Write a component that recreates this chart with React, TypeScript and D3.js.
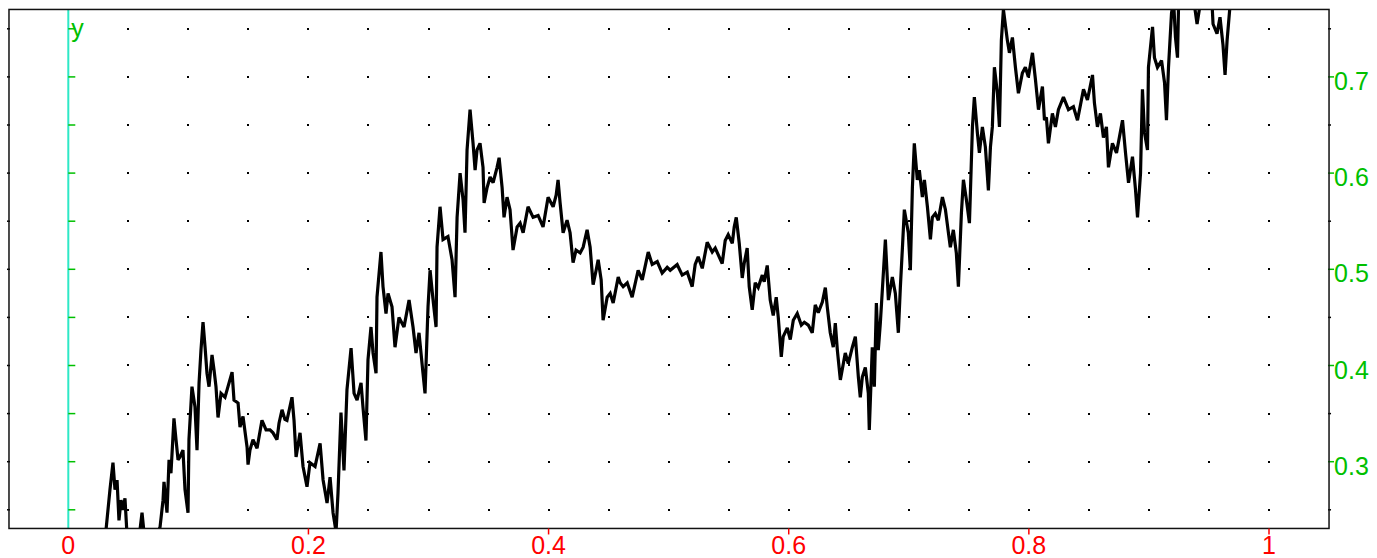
import React from "react";
import * as d3 from "d3";

// Random-walk path: [x, y]
const walk: [number, number][] = [
  [0, 0.19], [0.012, 0.205], [0.022, 0.198], [0.0314, 0.229], [0.0347, 0.271], [0.0372, 0.299], [0.0389, 0.271], [0.0406, 0.281], [0.0422, 0.239], [0.0439, 0.26], [0.0456, 0.25], [0.0472, 0.262], [0.0489, 0.224], [0.0539, 0.213], [0.0597, 0.229], [0.0614, 0.247], [0.063, 0.227], [0.0697, 0.213], [0.0747, 0.227],
  [0.0764, 0.232], [0.0789, 0.26], [0.0797, 0.279], [0.0822, 0.247], [0.0839, 0.302], [0.0855, 0.288], [0.088, 0.345], [0.0897, 0.323], [0.0914, 0.302], [0.093, 0.305], [0.0955, 0.312], [0.0972, 0.271], [0.0997, 0.247], [0.1005, 0.323], [0.103, 0.378], [0.1055, 0.357], [0.1072, 0.312], [0.1089, 0.382], [0.1105, 0.416], [0.1122, 0.445], [0.1139, 0.419], [0.1155, 0.392], [0.1172, 0.378], [0.1197, 0.411], [0.1214, 0.395], [0.123, 0.378], [0.1247, 0.346], [0.1272, 0.371], [0.1305, 0.367], [0.133, 0.378], [0.1364, 0.393], [0.138, 0.364], [0.1414, 0.361], [0.143, 0.336], [0.1455, 0.347], [0.1489, 0.315], [0.1497, 0.297], [0.1513, 0.312], [0.1538, 0.323], [0.1572, 0.314], [0.1613, 0.343], [0.1647, 0.333], [0.168, 0.333], [0.1705, 0.33], [0.1738, 0.323], [0.1755, 0.34], [0.178, 0.354],
  [0.1804, 0.344], [0.1821, 0.343], [0.1863, 0.367], [0.188, 0.343], [0.1897, 0.305], [0.193, 0.33], [0.1955, 0.295], [0.1988, 0.274], [0.2013, 0.299], [0.2055, 0.295], [0.2097, 0.319], [0.2122, 0.281], [0.2155, 0.257], [0.218, 0.284], [0.2205, 0.247], [0.223, 0.227], [0.2246, 0.267], [0.2271, 0.351], [0.2296, 0.291], [0.2321, 0.375], [0.2355, 0.418], [0.238, 0.371], [0.2405, 0.364], [0.2438, 0.382], [0.2454, 0.357], [0.2479, 0.322], [0.2496, 0.406], [0.2521, 0.44], [0.2538, 0.413], [0.2563, 0.392], [0.2571, 0.471], [0.2604, 0.518], [0.2621, 0.482], [0.2646, 0.454], [0.2663, 0.475], [0.2696, 0.461], [0.2721, 0.419], [0.2754, 0.45], [0.2796, 0.44], [0.2838, 0.468], [0.2871, 0.44], [0.2896, 0.413], [0.2921, 0.434], [0.2954, 0.392], [0.2971, 0.371], [0.2996, 0.461], [0.3013, 0.499], [0.3038, 0.468], [0.3063, 0.44], [0.3071, 0.523], [0.3096, 0.565], [0.3121, 0.531], [0.3162, 0.534], [0.3196, 0.51], [0.3221, 0.471], [0.3238, 0.554], [0.3263, 0.6], [0.3288, 0.572], [0.3304, 0.538], [0.3321, 0.624], [0.3346, 0.666],
  [0.3371, 0.631], [0.3388, 0.603], [0.3404, 0.624], [0.3429, 0.631], [0.3454, 0.606], [0.3463, 0.569], [0.3488, 0.585], [0.3513, 0.596], [0.3538, 0.59], [0.3571, 0.606], [0.3588, 0.616], [0.3613, 0.585], [0.3629, 0.554], [0.3654, 0.575], [0.3679, 0.562], [0.3704, 0.52], [0.3738, 0.544], [0.3763, 0.548], [0.3788, 0.538], [0.3829, 0.565], [0.3871, 0.554], [0.3913, 0.556], [0.3954, 0.544], [0.3996, 0.575], [0.4038, 0.565], [0.4063, 0.577], [0.4079, 0.593], [0.4096, 0.569], [0.4121, 0.538], [0.4154, 0.551], [0.4179, 0.538], [0.4204, 0.507], [0.4229, 0.52], [0.4263, 0.517], [0.4288, 0.523], [0.4321, 0.541], [0.4346, 0.523], [0.4371, 0.484], [0.4396, 0.499], [0.4413, 0.51], [0.4438, 0.489], [0.4454, 0.447], [0.4488, 0.471], [0.4513, 0.475], [0.4538, 0.465], [0.458, 0.492], [0.4596, 0.486], [0.4621, 0.482], [0.4655, 0.486], [0.4696, 0.471], [0.4746, 0.499], [0.478, 0.489], [0.483, 0.518], [0.4863, 0.505],
  [0.4905, 0.508], [0.4946, 0.496], [0.4988, 0.502], [0.5013, 0.499], [0.5071, 0.505], [0.5113, 0.494], [0.5155, 0.497], [0.5196, 0.482], [0.5221, 0.505], [0.5246, 0.513], [0.528, 0.501], [0.5321, 0.528], [0.5363, 0.518], [0.5388, 0.522], [0.5446, 0.506], [0.5471, 0.53], [0.5496, 0.536], [0.553, 0.527], [0.5546, 0.544], [0.5563, 0.554], [0.5588, 0.527], [0.5613, 0.491], [0.5629, 0.506], [0.5654, 0.522], [0.5671, 0.482], [0.5696, 0.458], [0.5721, 0.486], [0.5746, 0.481], [0.578, 0.494], [0.5796, 0.487], [0.5821, 0.504], [0.5846, 0.468], [0.5871, 0.452], [0.5896, 0.471], [0.5913, 0.45], [0.5938, 0.409], [0.5954, 0.43], [0.5988, 0.439], [0.6013, 0.427], [0.6038, 0.447], [0.6071, 0.454], [0.6105, 0.442], [0.613, 0.445], [0.6163, 0.442], [0.6196, 0.434], [0.6221, 0.463], [0.6246, 0.455], [0.628, 0.466], [0.6305, 0.481], [0.6321, 0.461], [0.6346, 0.434], [0.6371, 0.419], [0.6388, 0.444], [0.6405, 0.416], [0.643, 0.385], [0.6455, 0.402], [0.6471, 0.413], [0.6496, 0.402],
  [0.653, 0.419], [0.6555, 0.43], [0.658, 0.388], [0.6596, 0.367], [0.6613, 0.388], [0.6638, 0.398], [0.6663, 0.371], [0.6671, 0.333], [0.6696, 0.419], [0.6713, 0.378], [0.673, 0.465], [0.6746, 0.416], [0.6763, 0.444], [0.678, 0.479], [0.6805, 0.531], [0.683, 0.468], [0.6863, 0.492], [0.6888, 0.475], [0.6913, 0.434], [0.693, 0.482], [0.6946, 0.52], [0.6963, 0.562], [0.6996, 0.538], [0.7013, 0.499], [0.703, 0.585], [0.7046, 0.631], [0.7071, 0.593], [0.7088, 0.603], [0.7113, 0.575], [0.713, 0.593], [0.7155, 0.565], [0.718, 0.531], [0.7196, 0.554], [0.7221, 0.558], [0.7246, 0.551], [0.728, 0.575], [0.7305, 0.562], [0.733, 0.538], [0.7346, 0.523], [0.7371, 0.541], [0.7396, 0.517], [0.7413, 0.482], [0.7438, 0.558], [0.7455, 0.593], [0.748, 0.572], [0.7505, 0.548], [0.7513, 0.579], [0.753, 0.648], [0.7546, 0.679], [0.7571, 0.642], [0.7588, 0.621], [0.7613, 0.648], [0.7638, 0.627], [0.7663, 0.582], [0.768, 0.627], [0.7696, 0.648], [0.7713, 0.71], [0.7738, 0.683], [0.7755, 0.648], [0.7771, 0.738], [0.7788, 0.77],
  [0.7821, 0.738], [0.7838, 0.725], [0.7863, 0.741], [0.7888, 0.71], [0.7913, 0.683], [0.7946, 0.704], [0.7971, 0.71], [0.7996, 0.7], [0.803, 0.725], [0.8055, 0.697], [0.808, 0.666], [0.8113, 0.69], [0.813, 0.655], [0.8146, 0.658], [0.8163, 0.631], [0.8196, 0.662], [0.8221, 0.648], [0.8246, 0.666], [0.8288, 0.679], [0.833, 0.666], [0.8371, 0.669], [0.8405, 0.655], [0.8455, 0.687], [0.8488, 0.676], [0.853, 0.702], [0.8546, 0.673], [0.8571, 0.648], [0.8596, 0.662], [0.8621, 0.637], [0.8646, 0.648], [0.8663, 0.606], [0.8696, 0.631], [0.873, 0.621], [0.878, 0.655], [0.8805, 0.621], [0.883, 0.59], [0.8863, 0.617], [0.8888, 0.583], [0.8905, 0.554], [0.893, 0.6], [0.8946, 0.687], [0.8963, 0.642], [0.8988, 0.624], [0.8996, 0.71], [0.903, 0.752], [0.9046, 0.72], [0.9071, 0.71], [0.9105, 0.717], [0.913, 0.694], [0.9146, 0.655], [0.9163, 0.71], [0.9188, 0.766], [0.9205, 0.78], [0.9221, 0.741], [0.9238, 0.72], [0.9246, 0.77], [0.9263, 0.79],
  [0.930, 0.8], [0.9346, 0.79], [0.9384, 0.77], [0.9401, 0.755], [0.9426, 0.775], [0.9467, 0.79], [0.951, 0.785], [0.9526, 0.775], [0.9534, 0.755], [0.9567, 0.745], [0.9592, 0.762], [0.9617, 0.733], [0.9634, 0.702], [0.9651, 0.738], [0.9676, 0.775], [0.975, 0.8], [0.985, 0.82], [1.0, 0.81],
];

const xTickValues = [0, 0.2, 0.4, 0.6, 0.8, 1];
const xTickLabels = ["0", "0.2", "0.4", "0.6", "0.8", "1"];
const yTickValues = [0.3, 0.4, 0.5, 0.6, 0.7];
const yTickLabels = ["0.3", "0.4", "0.5", "0.6", "0.7"];
const gridStep = 0.05;
const xExtent = [-0.0494, 1.05];
const yExtent = [0.2306, 0.7701];

const W = 1377;
const H = 558;
const GREEN = "#00c000";
const RED = "#ff0000";
const CYAN = "#2ee8c6";
const FONT = "'Liberation Sans', Arial, sans-serif";

export default function App() {
  const x = d3.scaleLinear().domain([0, 1]).range([68.3, 1269]);
  const y = d3.scaleLinear().domain([0.3, 0.7]).range([461.7, 76.9]);

  const left = x(xExtent[0]);
  const right = x(xExtent[1]);
  const top = y(yExtent[1]);
  const bottom = y(yExtent[0]);

  const line = d3
    .line<[number, number]>()
    .x((d) => x(d[0]))
    .y((d) => y(d[1]));

  const gx: number[] = [];
  for (let i = 1; i <= 20; i++) gx.push(+(i * gridStep).toFixed(2));
  const gy: number[] = [];
  for (let j = 5; j <= 15; j++) gy.push(+(j * gridStep).toFixed(2));

  const dots: JSX.Element[] = [];
  gx.forEach((vx) =>
    gy.forEach((vy) =>
      dots.push(
        <rect key={`d${vx}-${vy}`} x={Math.round(x(vx)) - 1} y={Math.round(y(vy)) - 1} width={2} height={2} fill="#000" />
      )
    )
  );

  const isLabeledY = (v: number) => yTickValues.some((t) => Math.abs(t - v) < 1e-6);

  return (
    <svg
      width={W}
      height={H}
      style={{ position: "absolute", left: 0, top: 0, background: "#fff" }}
      fontFamily={FONT}
    >
      <defs>
        <clipPath id="plotClip">
          <rect x={left} y={top} width={right - left} height={bottom - top} />
        </clipPath>
      </defs>
      <rect x={0} y={0} width={W} height={H} fill="#fff" />
      {dots}
      {/* left border ticks */}
      {gy.map((v) => (
        <line key={`lt${v}`} x1={left - 2} x2={left + 1} y1={y(v)} y2={y(v)} stroke="#000" strokeWidth={1.5} />
      ))}
      {/* right border ticks */}
      {gy.map((v) => (
        <line
          key={`rt${v}`}
          x1={right - 1}
          x2={isLabeledY(v) ? right + 5 : right + 2}
          y1={y(v)}
          y2={y(v)}
          stroke={isLabeledY(v) ? GREEN : "#000"}
          strokeWidth={1.5}
        />
      ))}
      {/* path */}
      <path d={line(walk) || ""} fill="none" stroke="#000" strokeWidth={3.2} strokeLinejoin="miter" strokeMiterlimit={2.5} clipPath="url(#plotClip)" />
      {/* cyan y axis at x=0 */}
      <line x1={x(0)} x2={x(0)} y1={top} y2={bottom} stroke={CYAN} strokeWidth={2} />
      {gy.map((v) => (
        <line key={`at${v}`} x1={x(0)} x2={x(0) + 7} y1={y(v)} y2={y(v)} stroke={GREEN} strokeWidth={1.5} />
      ))}
      <text x={x(0) + 3} y={top + 28} fill={GREEN} fontSize={25}>
        y
      </text>
      {/* border */}
      <rect x={left} y={top} width={right - left} height={bottom - top} fill="none" stroke="#111" strokeWidth={1.5} />
      {/* x tick marks & labels */}
      {xTickValues.map((v, i) => (
        <g key={`xt${v}`}>
          {v !== 0 && <line x1={x(v)} x2={x(v)} y1={bottom} y2={bottom + 6} stroke={RED} strokeWidth={1.5} />}
          <text x={x(v)} y={554} fill={RED} fontSize={25} textAnchor="middle">
            {xTickLabels[i]}
          </text>
        </g>
      ))}
      {/* y labels on right */}
      {yTickValues.map((v, i) => (
        <text key={`yl${v}`} x={right + 5} y={y(v) + 13} fill={GREEN} fontSize={25}>
          {yTickLabels[i]}
        </text>
      ))}
    </svg>
  );
}
